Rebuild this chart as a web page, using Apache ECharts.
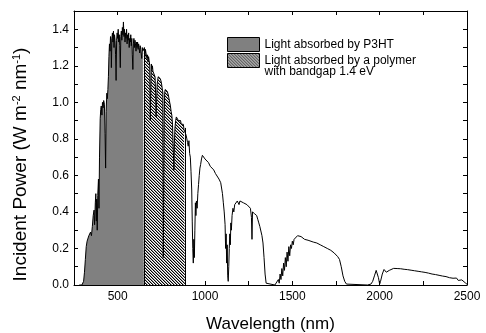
<!DOCTYPE html>
<html><head><meta charset="utf-8">
<script src="https://cdn.jsdelivr.net/npm/echarts@6/dist/echarts.min.js"></script>
<style>html,body{margin:0;padding:0;background:#fff}#c{width:486px;height:333px}</style>
</head><body><div id="c"></div><script>
// AM1.5G-like solar spectrum
const wavelength = [
280,295,300,305,310,315,320,325,330,335,340,345,350,355,360,365,368,372,375,378,380,383,386,390,393,396,
400,403,406,410,413,417,420,424,428,431,434,438,441,444,447,450,453,456,459,462,464,467,470,473,476,479,
482,485,488,491,494,497,500,503,506,509,512,515,518,521,524,527,530,533,536,539,542,545,548,551,554,557,
560,563,566,569,572,575,578,581,584,587,590,593,596,599,602,605,608,611,614,617,620,623,626,629,632,635,
638,641,644,647,650,653,656,659,662,665,668,671,674,677,680,684,687,690,693,696,699,702,706,710,714,717,
720,723,726,729,732,735,738,741,744,747,750,753,756,759,761,763,766,769,772,775,778,781,784,787,790,794,
798,802,806,810,814,818,822,825,828,832,836,840,844,848,852,856,860,864,868,872,876,880,885,888,892,896,
900,904,908,912,916,920,924,927,930,933,936,939,942,945,948,951,955,959,963,967,971,975,980,985,990,995,
1000,1010,1020,1030,1040,1050,1060,1070,1080,1090,1095,1100,1105,1110,1115,1118,1121,1124,1127,1130,1133,
1136,1139,1142,1145,1148,1151,1155,1160,1165,1170,1175,1180,1185,1190,1195,1200,1210,1220,1230,1240,1250,
1260,1266,1269,1272,1278,1284,1290,1296,1302,1308,1314,1320,1326,1332,1338,1344,1350,1360,1400,1410,1420,
1425,1430,1435,1440,1445,1450,1455,1460,1465,1470,1475,1480,1485,1490,1495,1500,1505,1510,1520,1530,1540,
1550,1560,1570,1580,1590,1600,1620,1640,1660,1680,1700,1720,1740,1760,1770,1780,1790,1800,1810,1820,1930,
1950,1960,1970,1980,1987,1993,2000,2005,2015,2025,2031,2038,2045,2055,2065,2080,2100,2120,2140,2160,2180,
2200,2220,2240,2260,2280,2300,2320,2340,2360,2380,2400,2420,2430,2440,2450,2460,2470,2480,2490,2500
];
const irradiance = [
0,0,0.002,0.02,0.07,0.14,0.21,0.24,0.25,0.27,0.26,0.29,0.27,0.32,0.38,0.41,0.33,0.45,0.50,0.35,0.47,0.30,0.49,0.58,0.42,0.70,
0.91,0.96,0.98,0.93,1.00,0.97,1.01,0.99,0.83,0.64,0.95,1.05,1.02,1.07,1.14,1.25,1.32,1.28,1.36,1.34,1.19,1.35,1.38,1.33,1.39,1.30,
1.37,1.34,1.26,1.12,1.34,1.38,1.35,1.40,1.33,1.37,1.31,1.19,1.36,1.39,1.34,1.41,1.37,1.44,1.36,1.40,1.33,1.38,1.35,1.40,1.32,1.37,
1.34,1.38,1.30,1.35,1.33,1.37,1.31,1.35,1.26,1.18,1.32,1.35,1.30,1.34,1.32,1.28,1.33,1.30,1.33,1.29,1.32,1.30,1.27,1.31,1.29,1.30,
1.24,1.30,1.28,1.29,1.28,1.30,1.25,1.29,1.27,1.28,1.24,1.26,1.22,1.25,1.23,1.20,0.90,1.08,1.21,1.18,1.20,1.17,1.16,1.18,1.14,1.05,
0.92,1.00,1.10,1.12,1.14,1.15,1.13,1.14,1.13,1.12,1.11,1.12,1.10,1.05,0.15,0.35,0.90,1.05,1.07,1.08,1.07,1.08,1.06,1.05,1.04,1.02,
1.00,0.98,0.95,0.93,0.88,0.75,0.63,0.78,0.86,0.90,0.92,0.91,0.92,0.90,0.91,0.89,0.90,0.88,0.89,0.87,0.88,0.85,0.86,0.85,0.82,0.80,
0.78,0.76,0.79,0.72,0.70,0.62,0.52,0.35,0.20,0.12,0.25,0.15,0.30,0.45,0.38,0.46,0.42,0.50,0.55,0.60,0.64,0.66,0.69,0.71,0.70,0.70,
0.69,0.68,0.67,0.65,0.64,0.63,0.61,0.60,0.58,0.56,0.55,0.50,0.45,0.40,0.33,0.20,0.28,0.12,0.22,0.05,0.02,
0.10,0.20,0.28,0.22,0.34,0.30,0.38,0.42,0.40,0.44,0.45,0.44,0.46,0.45,0.44,0.46,0.45,0.45,0.44,0.44,0.43,
0.42,0.37,0.25,0.40,0.41,0.39,0.40,0.38,0.36,0.34,0.32,0.31,0.27,0.23,0.15,0.06,0.01,0,0,0.005,0.03,
0.01,0.06,0.03,0.09,0.05,0.12,0.08,0.15,0.10,0.18,0.13,0.21,0.16,0.22,0.20,0.24,0.22,0.25,0.26,0.27,0.27,
0.265,0.26,0.25,0.255,0.245,0.24,0.235,0.23,0.22,0.21,0.20,0.19,0.175,0.155,0.14,0.10,0.05,0.02,0.005,0,0,
0.005,0.02,0.05,0.08,0.082,0.04,0.005,0.02,0.06,0.085,0.091,0.07,0.064,0.08,0.088,0.091,0.090,0.089,0.086,0.084,0.081,
0.078,0.075,0.072,0.069,0.065,0.060,0.057,0.053,0.049,0.046,0.040,0.037,0.030,0.038,0.025,0.034,0.028,0.032,0.012,0.004
];
const xTickLabels = [500, 1000, 1500, 2000, 2500];
const yTickLabels = [0, 0.2, 0.4, 0.6, 0.8, 1.0, 1.2, 1.4];
const p3htEdge = 650;      // nm
const polymerEdge = 885;   // nm (1.4 eV)
const nameP3HT = 'Light absorbed by P3HT';
const namePolymer = 'Light absorbed by a polymer\nwith bandgap 1.4 eV';

const FONT = '"Liberation Sans", Arial, Helvetica, sans-serif';
const pts = wavelength.map((w, i) => [w, irradiance[i]]);
const greyPts = pts.filter(p => p[0] <= p3htEdge);
const hatchPts = pts.filter(p => p[0] >= p3htEdge && p[0] <= polymerEdge);
const vAt = w => irradiance[wavelength.indexOf(w)];

// diagonal hatch tile ("\" direction)
const tile = document.createElement('canvas');
tile.width = 3; tile.height = 3;
const tctx = tile.getContext('2d');
tctx.fillStyle = '#fff'; tctx.fillRect(0, 0, 3, 3);
tctx.fillStyle = '#000';
for (let i = 0; i < 3; i++) tctx.fillRect(i, i, 1, 1);
tctx.fillStyle = '#9a9a9a';
for (let i = 0; i < 3; i++) tctx.fillRect((i + 1) % 3, i, 1, 1);
const hatch = { image: tile, repeat: 'repeat' };

const chart = echarts.init(document.getElementById('c'), null, { renderer: 'canvas' });
const axisCommonX = {
  type: 'value', min: 250, max: 2500, interval: 250,
  axisLine: { show: true, onZero: false, lineStyle: { color: '#000', width: 1 } },
  axisTick: { show: true, inside: true, length: 4, lineStyle: { color: '#000', width: 1 } },
  splitLine: { show: false }
};
const axisCommonY = {
  type: 'value', min: 0, max: 1.5, interval: 0.1,
  axisLine: { show: true, onZero: false, lineStyle: { color: '#000', width: 1 } },
  axisTick: { show: true, inside: true, length: 4, lineStyle: { color: '#000', width: 1 } },
  splitLine: { show: false }
};
chart.setOption({
  animation: false,
  backgroundColor: '#fff',
  grid: { left: 74, top: 11, right: 19, bottom: 48, containLabel: false, outerBoundsMode: 'none' },
  xAxis: [
    Object.assign({}, axisCommonX, {
      position: 'bottom',
      axisLabel: { customValues: xTickLabels, formatter: v => String(v), color: '#000', fontSize: 12, fontFamily: FONT, margin: 6 },
      name: 'Wavelength (nm)', nameLocation: 'middle', nameGap: 31,
      nameTextStyle: { color: '#000', fontSize: 17, fontFamily: FONT }
    }),
    Object.assign({}, axisCommonX, { position: 'top', axisLabel: { show: false } })
  ],
  yAxis: [
    Object.assign({}, axisCommonY, {
      position: 'left',
      axisLabel: { customValues: yTickLabels, formatter: v => v.toFixed(1), color: '#000', fontSize: 12, fontFamily: FONT, margin: 5 },
      name: 'Incident Power (W m{sup|-2} nm{sup|-1})', nameLocation: 'middle', nameGap: 44,
      nameTextStyle: {
        color: '#000', fontSize: 19, fontFamily: FONT, padding: [0, 33, 0, 0],
        rich: { sup: { fontSize: 11, fontFamily: FONT, color: '#000', verticalAlign: 'top' } }
      }
    }),
    Object.assign({}, axisCommonY, { position: 'right', axisLabel: { show: false } })
  ],
  legend: {
    orient: 'vertical', left: 227, top: 37, padding: 0, itemWidth: 32, itemHeight: 14, itemGap: -8.5,
    selectedMode: false, icon: 'rect',
    formatter: name => (name === namePolymer ? '\n' + name : name),
    textStyle: { color: '#000', fontSize: 12, fontFamily: FONT },
    data: [
      { name: nameP3HT, itemStyle: { color: '#808080', borderColor: '#000', borderWidth: 1 } },
      { name: namePolymer, itemStyle: { color: hatch, borderColor: '#000', borderWidth: 1 },
        textStyle: { lineHeight: 11 } }
    ]
  },
  series: [
    {
      name: nameP3HT, type: 'line', data: greyPts, showSymbol: false, symbol: 'none',
      lineStyle: { width: 0 }, itemStyle: { color: '#808080' },
      areaStyle: { color: '#808080', opacity: 1 }, z: 2, silent: true,
      markLine: {
        silent: true, symbol: 'none', label: { show: false },
        lineStyle: { color: '#000', width: 1, type: 'solid' },
        data: [[{ coord: [p3htEdge, 0] }, { coord: [p3htEdge, vAt(p3htEdge)] }]]
      }
    },
    {
      name: namePolymer, type: 'line', data: hatchPts, showSymbol: false, symbol: 'none',
      lineStyle: { width: 0 }, itemStyle: { color: '#555' },
      areaStyle: { color: hatch, opacity: 1 }, z: 2, silent: true,
      markLine: {
        silent: true, symbol: 'none', label: { show: false },
        lineStyle: { color: '#000', width: 1, type: 'solid' },
        data: [[{ coord: [polymerEdge, 0] }, { coord: [polymerEdge, vAt(polymerEdge)] }]]
      }
    },
    {
      name: 'AM1.5G spectrum', type: 'line', data: pts, showSymbol: false, symbol: 'none',
      lineStyle: { color: '#000', width: 1 }, z: 5, silent: true
    }
  ]
});
</script></body></html>
